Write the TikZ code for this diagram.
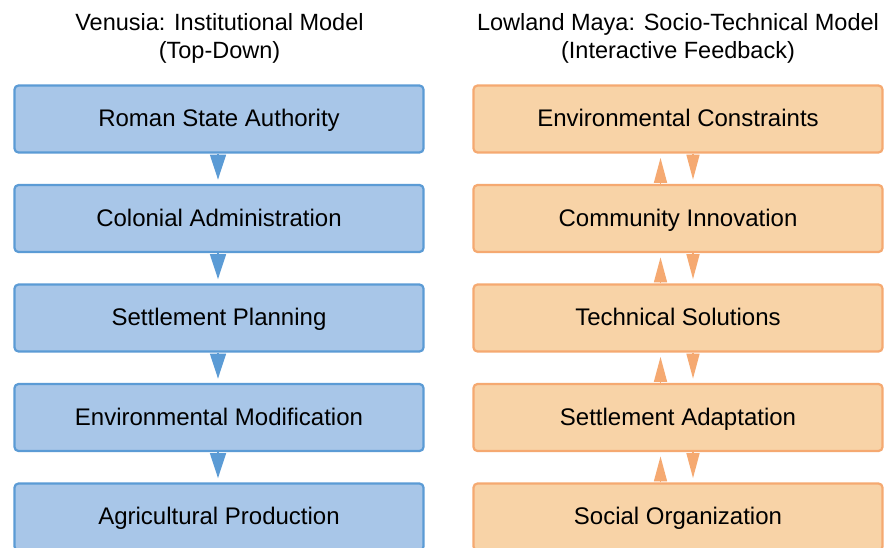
\documentclass[tikz,border=0pt]{standalone}
\usepackage{fontspec}
\setmainfont{Liberation Sans}
\usetikzlibrary{arrows.meta,calc}
\definecolor{bfill}{HTML}{A8C6E8}
\definecolor{bline}{HTML}{5B9BD5}
\definecolor{ofill}{HTML}{F8D3A7}
\definecolor{oline}{HTML}{F5A971}
\tikzset{
  box/.style={rectangle, rounded corners=4pt, line width=2.2pt, minimum width=409pt, minimum height=67pt, inner sep=0pt, text height=15.5pt, text depth=0pt, font=\fontsize{24}{28}\selectfont},
  bluebox/.style={box, draw=bline, fill=bfill},
  orabox/.style={box, draw=oline, fill=ofill},
  title/.style={align=center, font=\fontsize{23.5}{28}\selectfont},
  barrow/.style={draw=bline, line width=1.5pt, -{Triangle[length=25pt,width=16pt]}},
  oarrow/.style={draw=oline, line width=1.5pt, -{Triangle[length=25pt,width=13pt]}}
}
\begin{document}
\begin{tikzpicture}[x=1pt,y=-1pt]
\useasboundingbox (0,0) rectangle (890,547);
\clip (0,0) rectangle (890,547);
\fill[white] (0,0) rectangle (890,547);
\node[title] (tl) at (219.5,38.5) {Venusia: Institutional Model\\(Top-Down)};
\node[title] (tr) at (678,38.5) {Lowland Maya: Socio-Technical Model\\(Interactive Feedback)};
% left column
\node[bluebox] (l1) at (219,119) {Roman State Authority};
\node[bluebox] (l2) at (219,218.5) {Colonial Administration};
\node[bluebox] (l3) at (219,318) {Settlement Planning};
\node[bluebox] (l4) at (219,417.5) {Environmental Modification};
\node[bluebox] (l5) at (219,517) {Agricultural Production};
% right column
\node[orabox] (r1) at (678,119) {Environmental Constraints};
\node[orabox] (r2) at (678,218.5) {Community Innovation};
\node[orabox] (r3) at (678,318) {Technical Solutions};
\node[orabox] (r4) at (678,417.5) {Settlement Adaptation};
\node[orabox] (r5) at (678,517) {Social Organization};
% left arrows (top-down)
\foreach \a in {l1,l2,l3,l4}{
  \coordinate (\a s) at ($(\a.south)+(-1,0)$);
  \coordinate (\a t) at ($(\a.south)+(-1,26)$);
  \draw[barrow] (\a s) -- (\a t);
}
% right arrows (feedback)
\foreach \a/\b in {r1/r2,r2/r3,r3/r4,r4/r5}{
  \coordinate (\a d) at ($(\a.south)+(15,0)$);
  \coordinate (\a dt) at ($(\a.south)+(15,26)$);
  \draw[oarrow] (\a d) -- (\a dt);
  \coordinate (\b u) at ($(\b.north)+(-17.5,0)$);
  \coordinate (\b ut) at ($(\b.north)+(-17.5,-26)$);
  \draw[oarrow] (\b u) -- (\b ut);
}
\end{tikzpicture}
\end{document}
